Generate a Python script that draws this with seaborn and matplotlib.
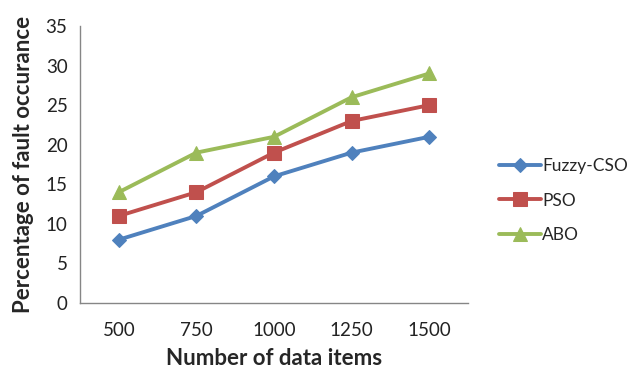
import matplotlib
matplotlib.use("Agg")
import matplotlib.pyplot as plt
import seaborn as sns
import pandas as pd
import numpy as np

categories = ["500", "750", "1000", "1250", "1500"]
fuzzy_cso = [8, 11, 16, 19, 21]
pso = [11, 14, 19, 23, 25]
abo = [14, 19, 21, 26, 29]
series_names = ["Fuzzy-CSO", "PSO", "ABO"]
y_ticks = [0, 5, 10, 15, 20, 25, 30, 35]

colors = ["#4F81BD", "#C0504D", "#9BBB59"]
markers = ["D", "s", "^"]
msizes = [7, 10, 10]

sns.set_theme(style="white")
plt.rcParams["font.family"] = ["Lato", "DejaVu Sans"]

rows = []
for name, vals in zip(series_names, [fuzzy_cso, pso, abo]):
    for i, (c, v) in enumerate(zip(categories, vals)):
        rows.append({"pos": i, "items": c, "value": v, "series": name})
df = pd.DataFrame(rows)

fig = plt.figure(figsize=(6.32, 3.71), dpi=100)
ax = fig.add_axes([0.1266, 0.1833, 0.614, 0.7466])

for name, col, mk, ms in zip(series_names, colors, markers, msizes):
    sub = df[df["series"] == name]
    sns.lineplot(data=sub, x="pos", y="value", ax=ax, color=col, lw=2.8,
                 marker=mk, markersize=ms, markeredgecolor=col, label=name)

ax.set_xlim(-0.5, 4.5)
ax.set_ylim(0, 35)
ax.set_yticks(y_ticks)
ax.set_yticklabels([str(t) for t in y_ticks], fontsize=13.5, color="#222222")
ax.set_xticks(np.arange(-0.5, 5, 1))
ax.set_xticklabels([""] * 6)
ax.set_xticks(np.arange(len(categories)), minor=True)
ax.set_xticklabels(categories, minor=True, fontsize=13.5, color="#222222")
ax.tick_params(axis="x", which="major", length=5, width=1, color="#868686", direction="out")
ax.tick_params(axis="x", which="minor", length=0, pad=14)
ax.tick_params(axis="y", length=5, width=1, color="#868686", direction="out", pad=4)

for s in ["top", "right"]:
    ax.spines[s].set_visible(False)
for s in ["left", "bottom"]:
    ax.spines[s].set_color("#868686")
    ax.spines[s].set_linewidth(1)

ax.set_xlabel("Number of data items", fontsize=16, fontweight="bold", labelpad=6)
ax.set_ylabel("Percentage of fault occurance", fontsize=16, fontweight="bold", labelpad=8)

leg = ax.legend(loc="center left", bbox_to_anchor=(1.063, 0.37), frameon=False,
                fontsize=12.5, handlelength=2.4, handletextpad=0.05, labelspacing=1.05,
                borderaxespad=0.0)

fig.savefig("out.png", dpi=100)
